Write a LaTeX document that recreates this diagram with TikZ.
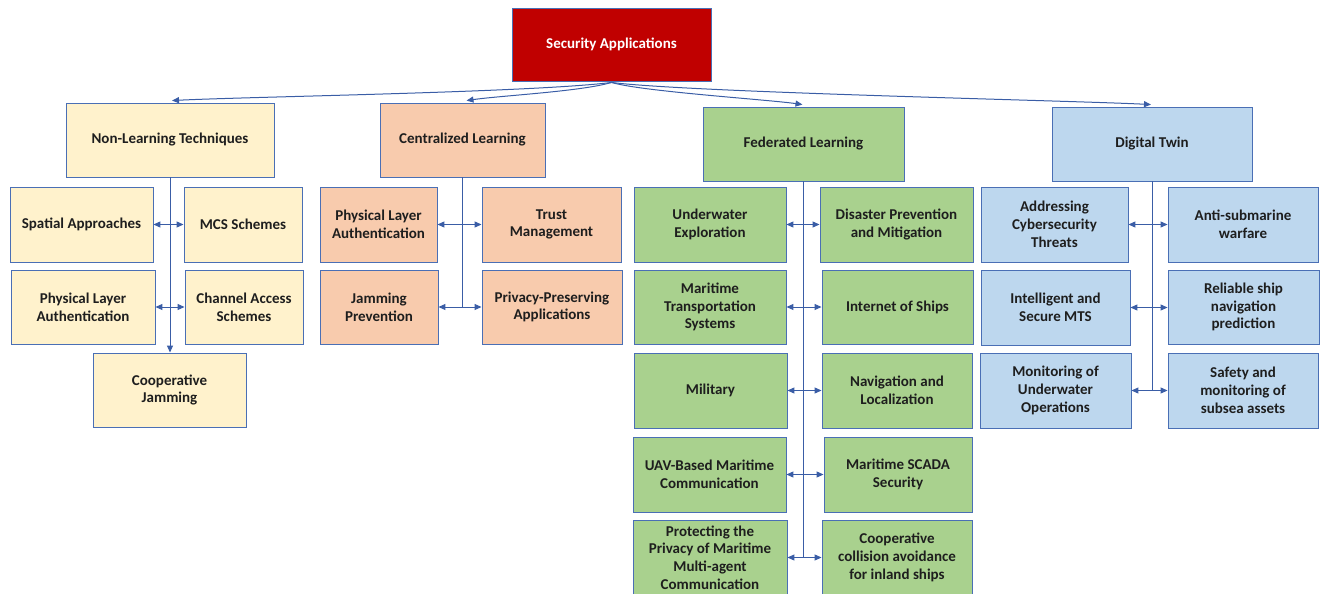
\documentclass[tikz,border=0pt]{standalone}
\usepackage{fontspec}
\setmainfont{Carlito}
\usetikzlibrary{arrows.meta,calc}
\definecolor{bord}{HTML}{4A6FB5}
\definecolor{lin}{HTML}{3A5DA6}
\definecolor{redf}{HTML}{C00000}
\definecolor{yel}{HTML}{FFF2CC}
\definecolor{org}{HTML}{F8CBAD}
\definecolor{grn}{HTML}{A9D18E}
\definecolor{blu}{HTML}{BDD7EE}
\definecolor{txt}{HTML}{1E1E1E}
\tikzset{
  box/.style={draw=bord, line width=0.9pt, align=center, inner sep=2pt,
    font=\bfseries\fontsize{15}{17.8}\selectfont, text=txt},
  nl/.style={box, fill=yel}, cl/.style={box, fill=org},
  fl/.style={box, fill=grn}, dt/.style={box, fill=blu},
  conn/.style={draw=lin, line width=1pt},
  tip/.style={-{Triangle[length=7pt,width=6pt]}},
  dtip/.style={{Triangle[length=7pt,width=6pt]}-{Triangle[length=7pt,width=6pt]}}
}
\begin{document}
\begin{tikzpicture}[x=1pt,y=-1pt]
\useasboundingbox (0,0) rectangle (1328,594);
\clip (0,0) rectangle (1328,594);
% root
\node[box, fill=redf, text=white, minimum width=199, minimum height=73] (SA) at (611.5,44.5) {Security Applications};
% Non-learning
\node[nl, minimum width=208, minimum height=74] (NL) at (170,140) {Non-Learning Techniques};
\node[nl, minimum width=143, minimum height=75] (SpA) at (81.5,224.5) {Spatial Approaches};
\node[nl, minimum width=118, minimum height=75] (MCS) at (243,224.5) {MCS Schemes};
\node[nl, minimum width=144, minimum height=74] (PLA1) at (83,307) {Physical Layer\\Authentication};
\node[nl, minimum width=118, minimum height=74] (CAS) at (244,307) {Channel Access\\Schemes};
\node[nl, minimum width=153, minimum height=74] (CJ) at (169.5,390) {Cooperative\\Jamming};
% Centralized
\node[cl, minimum width=165, minimum height=74] (CL) at (462.5,140) {Centralized Learning};
\node[cl, minimum width=117, minimum height=75] (PLA2) at (378.5,224.5) {Physical Layer\\Authentication};
\node[cl, minimum width=139, minimum height=75] (TM) at (551.5,224.5) {Trust\\Management};
\node[cl, minimum width=118, minimum height=74] (JP) at (379,307) {Jamming\\Prevention};
\node[cl, minimum width=140, minimum height=74] (PPA) at (552,307) {Privacy-Preserving\\Applications};
% Federated
\node[fl, minimum width=201, minimum height=74] (FL) at (803.5,144) {Federated Learning};
\node[fl, minimum width=152, minimum height=75] (UE) at (710,224.5) {Underwater\\Exploration};
\node[fl, minimum width=153, minimum height=75] (DPM) at (896.5,224.5) {Disaster Prevention\\and Mitigation};
\node[fl, minimum width=152, minimum height=74] (MTS) at (710,307) {Maritime\\Transportation\\Systems};
\node[fl, minimum width=151, minimum height=74] (IoS) at (897.5,307) {Internet of Ships};
\node[fl, minimum width=153, minimum height=75] (Mil) at (710.5,390.5) {Military};
\node[fl, minimum width=150, minimum height=75] (Nav) at (897,390.5) {Navigation and\\Localization};
\node[fl, minimum width=153, minimum height=75] (UAV) at (709.5,474.5) {UAV-Based Maritime\\Communication};
\node[fl, minimum width=148, minimum height=75] (SCADA) at (898,474.5) {Maritime SCADA\\Security};
\node[fl, minimum width=154, minimum height=75] (Prot) at (710,557.5) {Protecting the\\Privacy of Maritime\\Multi-agent\\Communication};
\node[fl, minimum width=150, minimum height=75] (Coll) at (897,557.5) {Cooperative\\collision avoidance\\for inland ships};
% Digital twin
\node[dt, minimum width=200, minimum height=74] (DT) at (1152,144) {Digital Twin};
\node[dt, minimum width=147, minimum height=75] (ACT) at (1054.5,224.5) {Addressing\\Cybersecurity\\Threats};
\node[dt, minimum width=150, minimum height=75] (ASW) at (1243,224.5) {Anti-submarine\\warfare};
\node[dt, minimum width=149, minimum height=75] (ISM) at (1055.5,307.5) {Intelligent and\\Secure MTS};
\node[dt, minimum width=151, minimum height=74] (RSN) at (1243.5,307) {Reliable ship\\navigation\\prediction};
\node[dt, minimum width=151, minimum height=75] (MUO) at (1055.5,390.5) {Monitoring of\\Underwater\\Operations};
\node[dt, minimum width=150, minimum height=75] (SMS) at (1243,390.5) {Safety and\\monitoring of\\subsea assets};
% top curves
\coordinate (s) at ($(SA.south)+(0,1)$);
\draw[conn, tip] (s) .. controls +(-80,10) and +(80,-4) .. ($(NL.north)+(2,-2)$);
\draw[conn, tip] (s) .. controls +(-30,9) and +(35,-5) .. ($(CL.north)+(4,-2)$);
\draw[conn, tip] (s) .. controls +(30,9) and +(-35,-5) .. ($(FL.north)+(-1,-2)$);
\draw[conn, tip] (s) .. controls +(80,10) and +(-80,-4) .. ($(DT.north)+(-1,-2)$);
% trunks
\draw[conn, tip] (NL.south) -- (NL.south |- CJ.north);
\draw[conn] (CL.south) -- (CL.south |- JP.east);
\draw[conn] (FL.south) -- (FL.south |- Prot.east);
\draw[conn] (DT.south) -- (DT.south |- MUO.east);
% horizontal double arrows
\foreach \a/\b in {SpA/MCS,PLA1/CAS,PLA2/TM,JP/PPA,UE/DPM,MTS/IoS,Mil/Nav,UAV/SCADA,Prot/Coll,ACT/ASW,ISM/RSN,MUO/SMS}
  \draw[conn, dtip] (\a.east) -- (\a.east -| \b.west);
\end{tikzpicture}
\end{document}
